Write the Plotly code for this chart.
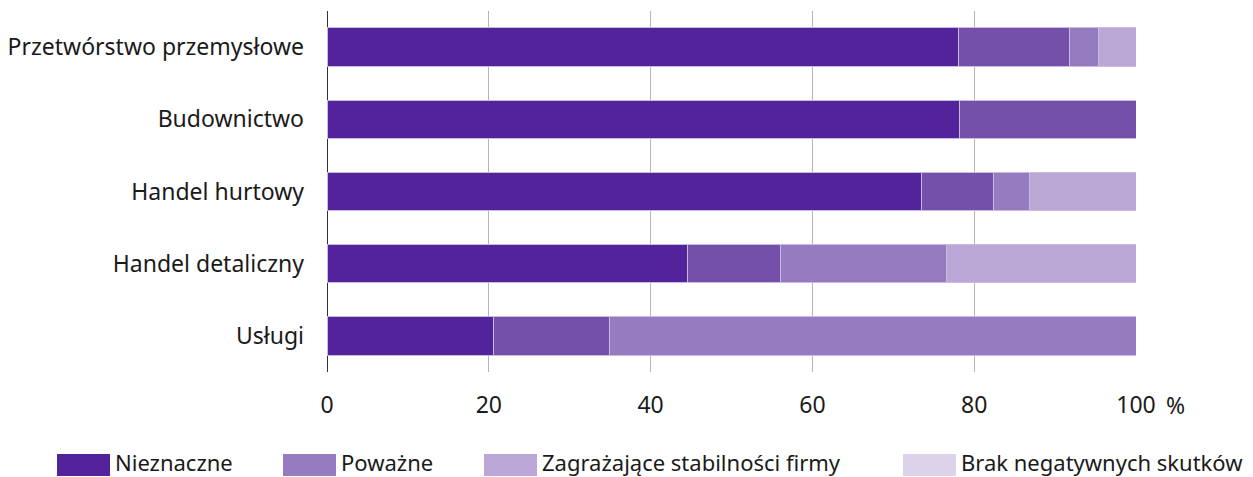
import plotly.graph_objects as go

categories = ["Przetwórstwo przemysłowe", "Budownictwo", "Handel hurtowy", "Handel detaliczny", "Usługi"]
series_names = ["Nieznaczne", "Poważne", "Zagrażające stabilności firmy", "Brak negatywnych skutków"]
seg1 = [78.0, 78.2, 73.5, 44.6, 20.6]
seg2 = [13.8, 21.8, 8.9, 11.4, 14.3]
seg3 = [3.6, 0.0, 4.4, 20.6, 65.1]
seg4 = [4.6, 0.0, 13.2, 23.4, 0.0]
x_ticks = [0, 20, 40, 60, 80, 100]

bar_colors = ["#52239A", "#7450AB", "#957BC0", "#BBA8D6"]
legend_colors = ["#52239A", "#957BC0", "#BBA8D6", "#DCD3EA"]
FONT = "Noto Sans, sans-serif"
FS = 23
FS_LEG = 22

# page body has an 8px margin -> figure is offset by (8, 8)
OFF = 8
W, H = 1253 - OFF, 477 - OFF
PL, PR, PT, PB = 327 - OFF, 1136 - OFF, 11 - OFF, 372 - OFF  # plot area in figure px
PW, PH = PR - PL, PB - PT


def px(x):
    return (x - OFF - PL) / PW


def py(y):
    return (PB - (y - OFF)) / PH


fig = go.Figure()
for vals, col, name in zip([seg1, seg2, seg3, seg4], bar_colors, series_names):
    fig.add_trace(go.Bar(
        y=categories, x=vals, orientation="h", name=name,
        marker=dict(color=col, line=dict(color="#C9BBE0", width=1)),
        width=0.53, showlegend=False, hoverinfo="x+y",
    ))

# custom legend (wide swatches)
leg_x = [57, 283, 484, 903]
shapes = []
annotations = []
for lx, col, name in zip(leg_x, legend_colors, series_names):
    shapes.append(dict(type="rect", xref="paper", yref="paper",
                       x0=px(lx), x1=px(lx + 53),
                       y0=py(476), y1=py(454),
                       fillcolor=col, line=dict(width=0), layer="above"))
    annotations.append(dict(xref="paper", yref="paper", x=px(lx + 56),
                            y=py(462), text=name, showarrow=False,
                            xanchor="left", yanchor="middle",
                            font=dict(size=FS_LEG, color="#1a1a1a", family=FONT)))
annotations.append(dict(xref="paper", yref="paper", x=px(1164), y=py(405),
                        text="%", showarrow=False, xanchor="left", yanchor="middle",
                        font=dict(size=FS, color="#1a1a1a", family=FONT)))

fig.update_layout(
    barmode="stack",
    width=W, height=H,
    margin=dict(l=PL, r=W - PR, t=PT, b=H - PB, pad=0, autoexpand=False),
    plot_bgcolor="white", paper_bgcolor="white",
    font=dict(family=FONT, size=FS, color="#1a1a1a"),
    shapes=shapes, annotations=annotations,
    bargap=0.47,
)
fig.update_xaxes(range=[0, 100], tickvals=x_ticks, ticktext=[str(v) for v in x_ticks],
                 showgrid=True, gridcolor="#B4B4B4", gridwidth=1,
                 zeroline=True, zerolinecolor="#333333", zerolinewidth=1,
                 ticks="", ticklabelstandoff=17, showline=False, fixedrange=True,
                 automargin=False)
fig.update_yaxes(autorange="reversed", showgrid=False, ticks="", ticklabelstandoff=22,
                 showline=False, fixedrange=True, automargin=False)

fig.write_html("out.html")
